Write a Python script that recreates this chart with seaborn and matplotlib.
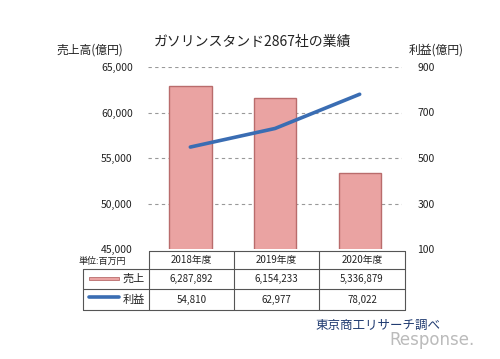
import matplotlib
matplotlib.use("Agg")
import matplotlib.pyplot as plt
import seaborn as sns
import pandas as pd
from matplotlib.lines import Line2D
from matplotlib.patches import Rectangle

sns.set_theme(style="white")
plt.rcParams['font.family'] = ['Noto Sans CJK JP', 'DejaVu Sans']

# ---- data ----
years = ["2018年度", "2019年度", "2020年度"]
sales_mil = [6287892, 6154233, 5336879]     # 百万円
profit_mil = [54810, 62977, 78022]          # 百万円
left_ticks = [45000, 50000, 55000, 60000, 65000]
right_ticks = [100, 300, 500, 700, 900]
title = "ガソリンスタンド2867社の業績"
left_label = "売上高(億円)"
right_label = "利益(億円)"
unit_label = "単位:百万円"
row_labels = ["売上", "利益"]
source = "東京商工リサーチ調べ"

df = pd.DataFrame({
    "year": years,
    "sales": [v / 100 for v in sales_mil],
    "profit": [v / 100 for v in profit_mil],
})

bar_color = "#EAA3A2"
bar_edge = "#B96C6C"
line_color = "#3A6DB3"

W, H = 500, 359
fig = plt.figure(figsize=(5, 3.59), dpi=100)
fig.patch.set_facecolor("white")

L, R, T, B = 148, 402, 67, 249
ax = fig.add_axes([L / W, 1 - B / H, (R - L) / W, (B - T) / H])
sns.barplot(data=df, x="year", y="sales", ax=ax, color=bar_color,
            width=0.5, edgecolor=bar_edge, linewidth=1.0, saturation=1)
ax.set_ylim(45000, 65000)
ax.set_xlim(-0.5, 2.5)
ax.set_yticks(left_ticks)
ax.set_yticklabels([f"{v:,}" for v in left_ticks], fontsize=7.5, color="#222222")
ax.set_xticks([])
ax.set_xlabel("")
ax.set_ylabel("")
for y in left_ticks[1:]:
    ax.axhline(y, color="#999999", lw=0.8, ls=(0, (3, 3)), zorder=0)
for s in ax.spines.values():
    s.set_visible(False)
ax.tick_params(axis="y", length=0, pad=11)
ax.patch.set_alpha(0)

ax2 = ax.twinx()
sns.lineplot(data=df, x="year", y="profit", ax=ax2, color=line_color,
             linewidth=2.6, sort=False)
ax2.set_ylim(100, 900)
ax2.set_xlim(-0.5, 2.5)
ax2.set_yticks(right_ticks)
ax2.set_yticklabels([str(v) for v in right_ticks], fontsize=7.5, color="#222222")
ax2.set_ylabel("")
ax2.set_xlabel("")
for s in ax2.spines.values():
    s.set_visible(False)
ax2.tick_params(axis="y", length=0, pad=11)
ax2.grid(False)

# ---- overlay for texts and table ----
ov = fig.add_axes([0, 0, 1, 1])
ov.set_xlim(0, W)
ov.set_ylim(H, 0)
ov.axis("off")
ov.patch.set_alpha(0)

ov.text(252, 42, title, fontsize=10, ha="center", va="center", color="#222222")
ov.text(90, 50, left_label, fontsize=8.5, ha="center", va="center", color="#222222")
ov.text(436, 50, right_label, fontsize=8.5, ha="center", va="center", color="#222222")
ov.text(102, 261, unit_label, fontsize=6.5, ha="center", va="center", color="#222222")

# table grid
xs = [83, 149, 234, 319, 405]
ys = [251, 269, 289, 310]
lc = "#555555"
ov.add_line(Line2D([xs[1], xs[-1]], [ys[0], ys[0]], color=lc, lw=0.8))
for y in ys[1:]:
    ov.add_line(Line2D([xs[0], xs[-1]], [y, y], color=lc, lw=0.8))
ov.add_line(Line2D([xs[0], xs[0]], [ys[1], ys[-1]], color=lc, lw=0.8))
for x in xs[1:]:
    ov.add_line(Line2D([x, x], [ys[0], ys[-1]], color=lc, lw=0.8))

for i, yr in enumerate(years):
    cx = (xs[i + 1] + xs[i + 2]) / 2
    ov.text(cx, (ys[0] + ys[1]) / 2, yr, fontsize=7, ha="center", va="center", color="#222222")
    ov.text(cx, (ys[1] + ys[2]) / 2, f"{sales_mil[i]:,}", fontsize=7, ha="center", va="center", color="#222222")
    ov.text(cx, (ys[2] + ys[3]) / 2, f"{profit_mil[i]:,}", fontsize=7, ha="center", va="center", color="#222222")

# legend keys
ov.add_patch(Rectangle((89, 276.5), 30, 3.5, facecolor=bar_color, edgecolor=bar_edge, lw=0.6))
ov.add_line(Line2D([89, 119], [297, 297], color=line_color, lw=2.6))
ov.text(134, (ys[1] + ys[2]) / 2, row_labels[0], fontsize=8, ha="center", va="center", color="#222222")
ov.text(134, (ys[2] + ys[3]) / 2, row_labels[1], fontsize=8, ha="center", va="center", color="#222222")

ov.text(378, 325, source, fontsize=9, ha="center", va="center", color="#1F3A70")
ov.text(432, 340, "Response.", fontsize=12, ha="center", va="center", color="#BBBBBB",
        family=["DejaVu Sans"])

fig.savefig("out.png", dpi=100, facecolor="white")
